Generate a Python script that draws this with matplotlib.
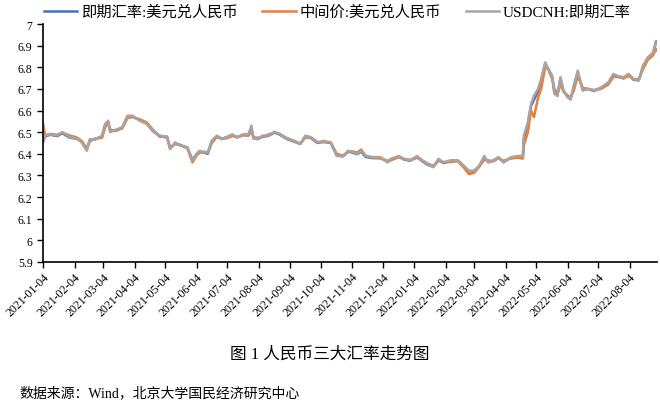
import pandas as pd
import matplotlib
matplotlib.use('Agg')
import matplotlib.pyplot as plt
import matplotlib.dates as mdates
from matplotlib.ticker import FuncFormatter, MultipleLocator

plt.rcParams['font.family'] = ['Liberation Serif', 'Noto Sans CJK SC']

# data
dates = [
    '2021-01-04', '2021-01-06', '2021-01-11', '2021-01-18', '2021-01-23', '2021-01-30',
    '2021-02-06', '2021-02-11', '2021-02-16', '2021-02-19', '2021-02-24',
    '2021-03-03', '2021-03-06', '2021-03-09', '2021-03-11', '2021-03-16', '2021-03-23', '2021-03-28',
    '2021-04-02', '2021-04-09', '2021-04-16', '2021-04-22', '2021-04-29',
    '2021-05-06', '2021-05-09', '2021-05-14', '2021-05-19', '2021-05-26', '2021-05-31',
    '2021-06-04', '2021-06-07', '2021-06-12', '2021-06-15', '2021-06-19', '2021-06-24', '2021-06-29',
    '2021-07-04', '2021-07-09', '2021-07-14', '2021-07-20', '2021-07-25', '2021-07-28', '2021-07-30',
    '2021-08-03', '2021-08-08', '2021-08-13', '2021-08-20', '2021-08-25',
    '2021-09-01', '2021-09-07', '2021-09-14', '2021-09-19', '2021-09-24',
    '2021-10-01', '2021-10-07', '2021-10-14', '2021-10-20', '2021-10-26', '2021-10-31',
    '2021-11-04', '2021-11-09', '2021-11-13', '2021-11-17', '2021-11-24',
    '2021-12-02', '2021-12-09', '2021-12-12', '2021-12-20', '2021-12-25', '2021-12-31',
    '2022-01-07', '2022-01-12', '2022-01-17', '2022-01-23', '2022-01-28',
    '2022-02-02', '2022-02-09', '2022-02-16', '2022-02-22', '2022-02-27',
    '2022-03-04', '2022-03-09', '2022-03-14', '2022-03-18', '2022-03-23', '2022-03-28',
    '2022-04-02', '2022-04-09', '2022-04-16', '2022-04-21', '2022-04-22', '2022-04-26', '2022-04-29',
    '2022-05-02', '2022-05-06', '2022-05-09', '2022-05-13', '2022-05-16', '2022-05-20', '2022-05-22',
    '2022-05-25', '2022-05-28', '2022-05-31',
    '2022-06-04', '2022-06-07', '2022-06-10', '2022-06-14', '2022-06-19', '2022-06-24', '2022-06-30',
    '2022-07-07', '2022-07-14', '2022-07-19', '2022-07-23', '2022-07-29',
    '2022-08-03', '2022-08-08', '2022-08-13', '2022-08-17', '2022-08-22', '2022-08-27', '2022-08-30',
    '2022-08-31',
]

usdcnh = [
    6.460, 6.484, 6.490, 6.485, 6.500, 6.478,
    6.472, 6.453, 6.414, 6.468, 6.465,
    6.484, 6.538, 6.553, 6.500, 6.510, 6.523, 6.576,
    6.576, 6.553, 6.538, 6.507, 6.484,
    6.478, 6.422, 6.453, 6.438, 6.430, 6.368,
    6.400, 6.414, 6.407, 6.407, 6.461, 6.484, 6.470,
    6.477, 6.490, 6.477, 6.490, 6.490, 6.530, 6.470,
    6.470, 6.484, 6.484, 6.502, 6.490,
    6.470, 6.460, 6.445, 6.484, 6.477,
    6.453, 6.460, 6.453, 6.390, 6.390, 6.414,
    6.410, 6.400, 6.415, 6.390, 6.385,
    6.385, 6.360, 6.377, 6.390, 6.377, 6.370,
    6.390, 6.370, 6.353, 6.338, 6.377,
    6.360, 6.370, 6.370, 6.345, 6.322,
    6.322, 6.345, 6.390, 6.360, 6.370, 6.385,
    6.360, 6.384, 6.390, 6.390, 6.484, 6.546, 6.630,
    6.669, 6.700, 6.746, 6.823, 6.792, 6.761, 6.677,
    6.670, 6.754, 6.692,
    6.661, 6.650, 6.715, 6.784, 6.692, 6.700, 6.692,
    6.707, 6.730, 6.769, 6.760, 6.754,
    6.770, 6.746, 6.738, 6.807, 6.846, 6.869, 6.915,
    6.908,
]

spot = [
    6.455, 6.480, 6.488, 6.482, 6.495, 6.475,
    6.470, 6.455, 6.420, 6.462, 6.468,
    6.480, 6.530, 6.548, 6.505, 6.508, 6.520, 6.570,
    6.572, 6.556, 6.540, 6.505, 6.482,
    6.475, 6.425, 6.448, 6.440, 6.428, 6.372,
    6.398, 6.410, 6.405, 6.400, 6.455, 6.480, 6.468,
    6.478, 6.485, 6.476, 6.488, 6.486, 6.515, 6.472,
    6.468, 6.480, 6.482, 6.498, 6.488,
    6.468, 6.458, 6.446, 6.478, 6.474,
    6.450, 6.456, 6.450, 6.392, 6.388, 6.410,
    6.406, 6.398, 6.410, 6.386, 6.380,
    6.382, 6.362, 6.372, 6.388, 6.374, 6.368,
    6.385, 6.366, 6.350, 6.340, 6.372,
    6.357, 6.366, 6.368, 6.342, 6.318,
    6.320, 6.342, 6.380, 6.362, 6.368, 6.382,
    6.362, 6.382, 6.386, 6.388, 6.470, 6.540, 6.620,
    6.650, 6.690, 6.740, 6.815, 6.790, 6.750, 6.685,
    6.668, 6.748, 6.690,
    6.665, 6.655, 6.705, 6.775, 6.695, 6.700, 6.690,
    6.705, 6.725, 6.762, 6.756, 6.750,
    6.765, 6.742, 6.740, 6.795, 6.840, 6.862, 6.920,
    6.910,
]

central_parity = [
    6.540, 6.486, 6.492, 6.488, 6.498, 6.485,
    6.476, 6.460, 6.425, 6.458, 6.470,
    6.474, 6.520, 6.548, 6.512, 6.505, 6.518, 6.565,
    6.570, 6.560, 6.545, 6.512, 6.478,
    6.480, 6.430, 6.445, 6.442, 6.425, 6.360,
    6.392, 6.405, 6.410, 6.405, 6.450, 6.478, 6.470,
    6.472, 6.482, 6.478, 6.485, 6.484, 6.505, 6.476,
    6.474, 6.478, 6.488, 6.500, 6.492,
    6.472, 6.462, 6.448, 6.476, 6.478,
    6.455, 6.454, 6.452, 6.400, 6.392, 6.408,
    6.412, 6.406, 6.420, 6.392, 6.382,
    6.378, 6.368, 6.370, 6.384, 6.376, 6.372,
    6.382, 6.370, 6.356, 6.344, 6.368,
    6.362, 6.362, 6.366, 6.336, 6.306,
    6.312, 6.340, 6.372, 6.370, 6.365, 6.380,
    6.368, 6.378, 6.382, 6.378, 6.440, 6.500, 6.600,
    6.570, 6.660, 6.700, 6.800, 6.795, 6.745, 6.700,
    6.680, 6.720, 6.688,
    6.670, 6.660, 6.690, 6.760, 6.705, 6.700, 6.695,
    6.700, 6.720, 6.755, 6.760, 6.748,
    6.760, 6.745, 6.745, 6.790, 6.835, 6.855, 6.885,
    6.878,
]

d = pd.to_datetime(dates)

fig = plt.figure(figsize=(6.6, 4.02), dpi=100)
ax = fig.add_axes([0.0652, 0.3458, 0.9303, 0.592])

ax.plot(d, spot, color='#4472C4', lw=1.8, label='即期汇率:美元兑人民币')
ax.plot(d, central_parity, color='#ED7D31', lw=1.8, label='中间价:美元兑人民币')
ax.plot(d, usdcnh, color='#A5A5A5', lw=1.8, label='USDCNH:即期汇率')

ax.set_ylim(5.9, 7.0)
ax.yaxis.set_major_locator(MultipleLocator(0.1))
ax.yaxis.set_major_formatter(FuncFormatter(lambda v, p: '{:g}'.format(round(v, 1))))
ax.set_xlim(pd.Timestamp('2021-01-04'), pd.Timestamp('2022-08-31'))
ax.xaxis.set_major_locator(mdates.MonthLocator(bymonthday=4))
ax.xaxis.set_major_formatter(mdates.DateFormatter('%Y-%m-%d'))

for s in ['top', 'right']:
    ax.spines[s].set_visible(False)
for s in ['left', 'bottom']:
    ax.spines[s].set_linewidth(1.2)
ax.tick_params(axis='both', direction='out', length=4, width=1, labelsize=8.5)
ax.tick_params(axis='x', labelsize=8.5, pad=2)
plt.setp(ax.get_xticklabels(), rotation=45, ha='right', rotation_mode='anchor')

fig.legend(loc='center', bbox_to_anchor=(0.511, 0.968), ncol=3, frameon=False,
           fontsize=11, handlelength=2.2, columnspacing=1.6, handletextpad=0.25)

fig.text(0.5, 0.117, '图 1 人民币三大汇率走势图', ha='center', va='center', fontsize=12)
fig.text(0.03, 0.022, '数据来源：Wind，北京大学国民经济研究中心', ha='left', va='center', fontsize=10)

fig.savefig('out.png', dpi=100)
